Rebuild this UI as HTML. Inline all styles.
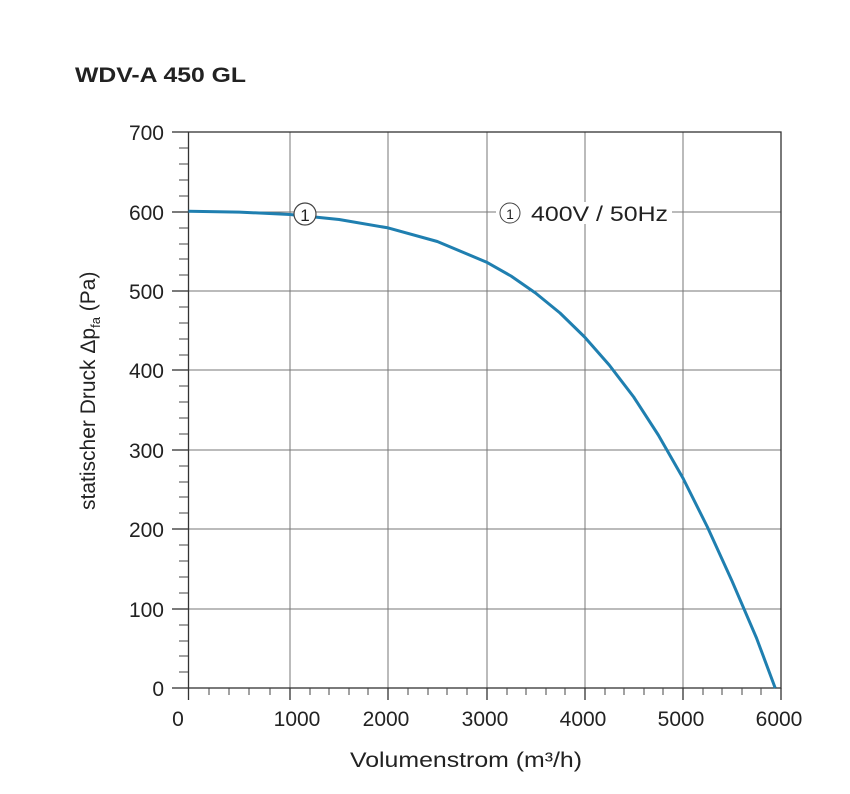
<!DOCTYPE html>
<html><head><style>body{margin:0;background:#fff}svg{display:block}</style></head><body>
<svg width="850" height="794" viewBox="0 0 850 794" font-family="Liberation Sans, sans-serif">
<text x="75" y="82" font-size="21" font-weight="bold" fill="#222" textLength="171" lengthAdjust="spacingAndGlyphs">WDV-A 450 GL</text>
<g stroke="#777" stroke-width="1">
<line x1="290" y1="132" x2="290" y2="688"/><line x1="388" y1="132" x2="388" y2="688"/><line x1="487" y1="132" x2="487" y2="688"/><line x1="585" y1="132" x2="585" y2="688"/><line x1="683" y1="132" x2="683" y2="688"/>
<line x1="188" y1="212" x2="781" y2="212"/><line x1="188" y1="291" x2="781" y2="291"/><line x1="188" y1="370" x2="781" y2="370"/><line x1="188" y1="450" x2="781" y2="450"/><line x1="188" y1="529" x2="781" y2="529"/><line x1="188" y1="609" x2="781" y2="609"/>
</g>
<g stroke="#333" stroke-width="1.3" fill="none">
<rect x="188.5" y="132" width="592.5" height="556"/>
<line x1="172" y1="132" x2="188" y2="132"/><line x1="172" y1="212" x2="188" y2="212"/><line x1="172" y1="291" x2="188" y2="291"/><line x1="172" y1="370" x2="188" y2="370"/><line x1="172" y1="450" x2="188" y2="450"/><line x1="172" y1="529" x2="188" y2="529"/><line x1="172" y1="609" x2="188" y2="609"/><line x1="172" y1="688" x2="188" y2="688"/>
<line x1="188.5" y1="688" x2="188.5" y2="700"/><line x1="290" y1="688" x2="290" y2="700"/><line x1="388" y1="688" x2="388" y2="700"/><line x1="487" y1="688" x2="487" y2="700"/><line x1="585" y1="688" x2="585" y2="700"/><line x1="683" y1="688" x2="683" y2="700"/><line x1="781" y1="688" x2="781" y2="700"/>
</g>
<g stroke="#444" stroke-width="1">
<path d="M179 148H188M179 164H188M179 180H188M179 196H188M179 228H188M179 244H188M179 259H188M179 275H188M179 307H188M179 323H188M179 339H188M179 355H188M179 386H188M179 402H188M179 418H188M179 434H188M179 466H188M179 482H188M179 497H188M179 513H188M179 545H188M179 561H188M179 577H188M179 593H188M179 625H188M179 641H188M179 656H188M179 672H188"/>
<path d="M209 688V695M229 688V695M249 688V695M270 688V695M310 688V695M329 688V695M349 688V695M368 688V695M408 688V695M428 688V695M447 688V695M467 688V695M507 688V695M526 688V695M546 688V695M565 688V695M605 688V695M624 688V695M644 688V695M663 688V695M703 688V695M722 688V695M742 688V695M761 688V695"/>
</g>
<polyline points="188.5,211.3 239.3,212.1 290,214.5 339.1,219.5 388.2,227.9 437.3,241.5 486.4,262.1 511,276 535.5,293 560,313 584.6,337 609.2,365 633.7,397 658.3,435 682.9,478 707.4,527 732,581 756.5,638 775.2,688" fill="none" stroke="#1f7fb0" stroke-width="3" stroke-linejoin="round"/>
<circle cx="305" cy="214" r="11" fill="#fff" stroke="#444" stroke-width="1.2"/>
<text x="305" y="221" font-size="17" text-anchor="middle" fill="#222">1</text>
<rect x="496" y="202" width="176" height="22" fill="#fff"/>
<circle cx="510" cy="213" r="10" fill="#fff" stroke="#444" stroke-width="1"/>
<text x="510" y="219" font-size="14" text-anchor="middle" fill="#222">1</text>
<text x="531" y="221" font-size="21" fill="#222" textLength="137" lengthAdjust="spacingAndGlyphs">400V / 50Hz</text>
<g font-size="21" fill="#222" text-anchor="end">
<text x="164" y="140">700</text><text x="164" y="220">600</text><text x="164" y="299">500</text><text x="164" y="378">400</text><text x="164" y="458">300</text><text x="164" y="537">200</text><text x="164" y="617">100</text><text x="164" y="696">0</text>
</g>
<g font-size="21" fill="#222" text-anchor="middle">
<text x="178" y="726">0</text><text x="297" y="726">1000</text><text x="386" y="726">2000</text><text x="485" y="726">3000</text><text x="583" y="726">4000</text><text x="681" y="726">5000</text><text x="779" y="726">6000</text>
</g>
<text x="350" y="767" font-size="21" fill="#222" textLength="232" lengthAdjust="spacingAndGlyphs">Volumenstrom (m³/h)</text>
<text transform="translate(95,510) rotate(-90)" font-size="21" fill="#222">statischer Druck Δp<tspan font-size="13" dy="5">fa</tspan><tspan dy="-5"> (Pa)</tspan></text>
</svg>
</body></html>
